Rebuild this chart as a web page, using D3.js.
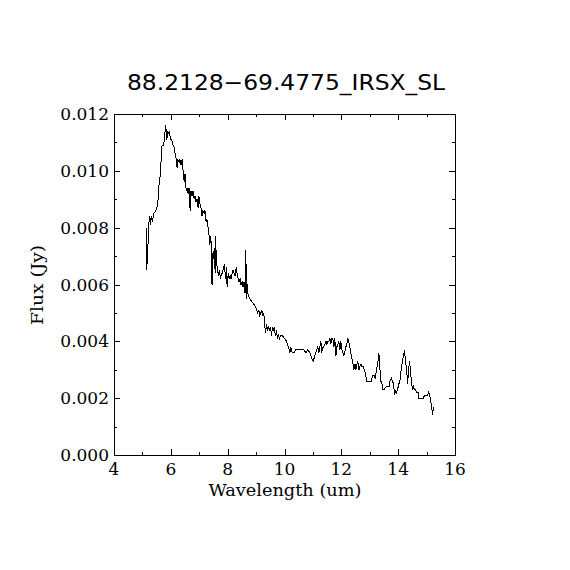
<!DOCTYPE html>
<html>
<head>
<meta charset="utf-8">
<script src="https://cdn.jsdelivr.net/npm/d3@7"></script>
<style>
  body { margin: 0; background: #fff; }
  svg { display: block; }
</style>
</head>
<body>
<div id="chart"></div>
<script>
// spectrum (wavelength in um, flux in Jy)
const wavelength = [
  5.13, 5.15, 5.17, 5.22, 5.24, 5.28, 5.31, 5.35, 5.40, 5.47, 5.54, 5.57, 5.62, 5.66, 5.69, 5.75,
  5.78, 5.82, 5.86, 5.89, 5.93, 5.96, 5.98, 6.03, 6.08, 6.13, 6.16, 6.20, 6.22, 6.25, 6.29, 6.32,
  6.36, 6.40, 6.43, 6.47, 6.50, 6.54, 6.57, 6.61, 6.64, 6.68, 6.71, 6.75, 6.78, 6.82, 6.85, 6.89,
  6.92, 6.96, 6.99, 7.03, 7.06, 7.10, 7.13, 7.17, 7.20, 7.24, 7.27, 7.31, 7.35, 7.37, 7.41, 7.43,
  7.45, 7.48, 7.50, 7.53, 7.56, 7.58, 7.60, 7.64, 7.67, 7.71, 7.75, 7.78, 7.82, 7.85, 7.89, 7.92,
  7.96, 7.98, 8.02, 8.05, 8.09, 8.12, 8.16, 8.19, 8.23, 8.26, 8.30, 8.33, 8.37, 8.40, 8.44, 8.47,
  8.51, 8.54, 8.58, 8.61, 8.64, 8.66, 8.69, 8.72, 8.78, 8.85, 8.92, 8.99, 9.06, 9.10, 9.13, 9.17,
  9.20, 9.24, 9.27, 9.31, 9.33, 9.37, 9.40, 9.44, 9.47, 9.51, 9.54, 9.58, 9.61, 9.64, 9.68, 9.72,
  9.75, 9.79, 9.82, 9.86, 9.93, 10.00, 10.07, 10.14, 10.19, 10.22, 10.27, 10.33, 10.40, 10.54, 10.68, 10.75,
  10.82, 10.89, 10.96, 11.01, 11.07, 11.13, 11.17, 11.21, 11.24, 11.28, 11.31, 11.35, 11.38, 11.42, 11.46, 11.49,
  11.53, 11.56, 11.60, 11.63, 11.67, 11.70, 11.74, 11.77, 11.81, 11.84, 11.88, 11.91, 11.95, 11.98, 12.02, 12.05,
  12.09, 12.12, 12.16, 12.19, 12.23, 12.26, 12.30, 12.33, 12.37, 12.41, 12.44, 12.48, 12.51, 12.55, 12.58, 12.62,
  12.65, 12.69, 12.72, 12.77, 12.84, 12.90, 12.95, 13.01, 13.06, 13.10, 13.15, 13.19, 13.24, 13.29, 13.32, 13.36,
  13.39, 13.43, 13.46, 13.51, 13.57, 13.64, 13.69, 13.71, 13.76, 13.80, 13.84, 13.87, 13.91, 13.94, 13.98, 14.02,
  14.05, 14.09, 14.12, 14.15, 14.19, 14.22, 14.26, 14.30, 14.33, 14.37, 14.40, 14.44, 14.47, 14.51, 14.54, 14.58,
  14.61, 14.65, 14.70, 14.73, 14.80, 14.88, 14.93, 14.98, 15.04, 15.07, 15.11, 15.14, 15.18, 15.21, 15.24
];
const flux = [
  0.00798, 0.00651, 0.00686, 0.0079, 0.0084, 0.0081, 0.0084, 0.0082, 0.0085, 0.0086, 0.0088, 0.0094, 0.0098, 0.0104, 0.0109, 0.0109,
  0.0112, 0.0116, 0.0111, 0.0114, 0.0113, 0.0114, 0.0111, 0.0111, 0.0109, 0.0108, 0.0105, 0.0104, 0.0101, 0.0104, 0.0103, 0.0104,
  0.0102, 0.0104, 0.0100, 0.0096, 0.0099, 0.0093, 0.0094, 0.0092, 0.0094, 0.0086, 0.0093, 0.0091, 0.0093, 0.0090, 0.0091, 0.0089,
  0.0090, 0.0087, 0.0091, 0.0088, 0.0087, 0.0084, 0.0086, 0.0085, 0.0086, 0.0082, 0.0083, 0.0080, 0.0077, 0.0074, 0.0077, 0.0069,
  0.0060, 0.0071, 0.0069, 0.0073, 0.0064, 0.0077, 0.0067, 0.0066, 0.0063, 0.0065, 0.0062, 0.0064, 0.0064, 0.0066, 0.0067, 0.0062,
  0.0066, 0.0059, 0.0064, 0.0062, 0.0063, 0.0062, 0.0064, 0.0065, 0.0064, 0.0063, 0.0066, 0.0064, 0.0062, 0.0061, 0.0062, 0.0060,
  0.0061, 0.0059, 0.0061, 0.0057, 0.0072, 0.0055, 0.0060, 0.0056, 0.0055, 0.0054, 0.0053, 0.0052, 0.0050, 0.0051, 0.0049, 0.0050,
  0.0051, 0.0049, 0.0050, 0.0045, 0.0043, 0.0046, 0.0044, 0.0045, 0.0044, 0.0045, 0.0042, 0.0045, 0.0044, 0.0045, 0.0042, 0.0044,
  0.0041, 0.0042, 0.0041, 0.0042, 0.0042, 0.0041, 0.0040, 0.0038, 0.0036, 0.0038, 0.0036, 0.0036, 0.0037, 0.0037, 0.0037, 0.0036,
  0.0037, 0.0036, 0.0034, 0.0033, 0.0035, 0.0037, 0.0038, 0.0036, 0.0038, 0.0040, 0.0036, 0.0038, 0.0038, 0.0039, 0.0040, 0.0039,
  0.0040, 0.0040, 0.0041, 0.0039, 0.0041, 0.0041, 0.0038, 0.0041, 0.0035, 0.0038, 0.0039, 0.0040, 0.0037, 0.0040, 0.0037, 0.0036,
  0.0035, 0.0036, 0.0038, 0.0039, 0.0041, 0.0040, 0.0038, 0.0036, 0.0034, 0.0032, 0.0030, 0.0032, 0.0030, 0.0032, 0.0033, 0.0030,
  0.0031, 0.0032, 0.0031, 0.0031, 0.0029, 0.0026, 0.0026, 0.0026, 0.0026, 0.0028, 0.0028, 0.0027, 0.0030, 0.0033, 0.0036, 0.0030,
  0.0026, 0.0025, 0.0023, 0.0023, 0.0024, 0.0024, 0.0024, 0.0026, 0.0027, 0.0026, 0.0025, 0.0021, 0.0023, 0.0022, 0.0023, 0.0025,
  0.0025, 0.0029, 0.0031, 0.0033, 0.0035, 0.0037, 0.0033, 0.0030, 0.0025, 0.0030, 0.0033, 0.0029, 0.0025, 0.0023, 0.0024, 0.0023,
  0.0023, 0.0022, 0.0022, 0.0020, 0.0020, 0.0020, 0.0021, 0.0021, 0.0021, 0.0022, 0.0021, 0.0019, 0.0017, 0.0014, 0.0017
];

const xMajor = [4, 6, 8, 10, 12, 14, 16];
const xMinor = [5, 7, 9, 11, 13, 15];
const yMajor = [0, 0.002, 0.004, 0.006, 0.008, 0.010, 0.012];
const yMinor = [0.001, 0.003, 0.005, 0.007, 0.009, 0.011];

const chartTitle = "88.2128\u221269.4775_IRSX_SL";
const xTitle = "Wavelength (um)";
const yTitle = "Flux (Jy)";

const width = 570;
const height = 570;
const margin = { top: 114, right: 115, bottom: 115, left: 114 };

const svg = d3
  .select("#chart")
  .append("svg")
  .attr("width", width)
  .attr("height", height);

const x = d3
  .scaleLinear()
  .domain([4, 16])
  .range([margin.left, width - margin.right]);

const y = d3
  .scaleLinear()
  .domain([0, 0.012])
  .range([height - margin.bottom, margin.top]);

const serif = "'DejaVu Serif', 'Liberation Serif', serif";
const majorLen = 6;
const minorLen = 3;

// ticks pointing inward on all four sides
function tickAxis(axisFn, scale, values, len, pos) {
  svg
    .append("g")
    .attr("transform", pos)
    .attr("shape-rendering", "crispEdges")
    .call(axisFn(scale).tickValues(values).tickSize(-len).tickFormat(""))
    .call((g) => g.select(".domain").remove())
    .call((g) => g.selectAll("line").attr("stroke", "#000"));
}

const bottomPos = `translate(0,${y(0)})`;
const topPos = `translate(0,${y(0.012)})`;
const leftPos = `translate(${x(4)},0)`;
const rightPos = `translate(${x(16)},0)`;

tickAxis(d3.axisBottom, x, xMajor, majorLen, bottomPos);
tickAxis(d3.axisBottom, x, xMinor, minorLen, bottomPos);
tickAxis(d3.axisTop, x, xMajor, majorLen, topPos);
tickAxis(d3.axisTop, x, xMinor, minorLen, topPos);
tickAxis(d3.axisLeft, y, yMajor, majorLen, leftPos);
tickAxis(d3.axisLeft, y, yMinor, minorLen, leftPos);
tickAxis(d3.axisRight, y, yMajor, majorLen, rightPos);
tickAxis(d3.axisRight, y, yMinor, minorLen, rightPos);

// frame
svg
  .append("rect")
  .attr("x", x(4))
  .attr("y", y(0.012))
  .attr("width", x(16) - x(4))
  .attr("height", y(0) - y(0.012))
  .attr("fill", "none")
  .attr("stroke", "#000")
  .attr("shape-rendering", "crispEdges");

// tick labels
svg
  .append("g")
  .selectAll("text")
  .data(xMajor)
  .enter()
  .append("text")
  .attr("x", (d) => x(d))
  .attr("y", y(0) + 20)
  .attr("text-anchor", "middle")
  .attr("font-family", serif)
  .attr("font-size", 17)
  .text((d) => d);

svg
  .append("g")
  .selectAll("text")
  .data(yMajor)
  .enter()
  .append("text")
  .attr("x", x(4) - 5)
  .attr("y", (d) => y(d) + 6)
  .attr("text-anchor", "end")
  .attr("font-family", serif)
  .attr("font-size", 17)
  .text((d) => d3.format(".3f")(d));

// titles
svg
  .append("text")
  .attr("x", 286)
  .attr("y", 90)
  .attr("text-anchor", "middle")
  .attr("font-family", "'DejaVu Sans', sans-serif")
  .attr("font-size", 22)
  .attr("textLength", 318)
  .attr("lengthAdjust", "spacingAndGlyphs")
  .text(chartTitle);

svg
  .append("text")
  .attr("x", 285)
  .attr("y", 496)
  .attr("text-anchor", "middle")
  .attr("font-family", serif)
  .attr("font-size", 16)
  .attr("textLength", 153)
  .attr("lengthAdjust", "spacingAndGlyphs")
  .text(xTitle);

svg
  .append("text")
  .attr("transform", "translate(43,285) rotate(-90)")
  .attr("text-anchor", "middle")
  .attr("font-family", serif)
  .attr("font-size", 16)
  .attr("textLength", 80)
  .attr("lengthAdjust", "spacingAndGlyphs")
  .text(yTitle);

// spectrum
const line = d3
  .line()
  .x((d, i) => x(wavelength[i]))
  .y((d) => y(d));

svg
  .append("path")
  .datum(flux)
  .attr("d", line)
  .attr("fill", "none")
  .attr("stroke", "#000")
  .attr("stroke-width", 1)
  .attr("shape-rendering", "crispEdges");
</script>
</body>
</html>
